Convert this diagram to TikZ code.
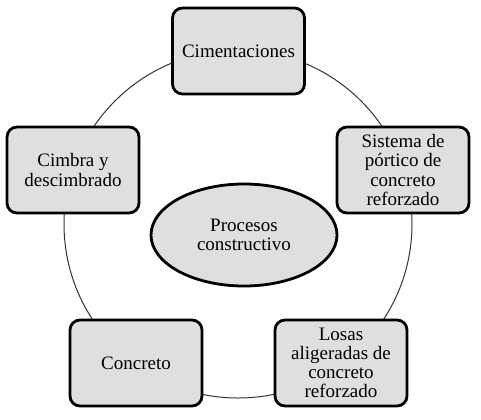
\documentclass[tikz,border=0pt]{standalone}
\usepackage{fontspec}
\setmainfont{Liberation Serif}
\usetikzlibrary{shapes.geometric}
\begin{document}
\begin{tikzpicture}[x=0.5pt, y=-0.5pt,
    etapa/.style={draw, line width=1.4pt, fill=gray!25, rounded corners=5pt,
        minimum width=66pt, minimum height=43pt, align=center,
        font=\fontsize{9.5}{9.6}\selectfont},
    centro/.style={draw, ellipse, line width=1.4pt, fill=gray!25,
        minimum width=93pt, minimum height=51pt, align=center,
        font=\fontsize{9.5}{9.6}\selectfont}]
        \useasboundingbox (0,0) rectangle (481,419);

        \coordinate (o) at (238,224);
        \draw[gray!40!black, line width=0.5pt] (o) circle[radius=87pt];

        \node[etapa] (ciment) at (238.5,51) {Cimentaciones};
        \node[etapa] (portico) at (403,170) {Sistema de\\pórtico de\\concreto\\reforzado};
        \node[etapa] (losas) at (341,363) {Losas\\aligeradas de\\concreto\\reforzado};
        \node[etapa] (concreto) at (136,363) {Concreto};
        \node[etapa] (cimbra) at (73,170) {Cimbra y\\descimbrado};

        \node[centro] (procesos) at (244,235) {Procesos\\constructivo};

    \end{tikzpicture}
\end{document}
